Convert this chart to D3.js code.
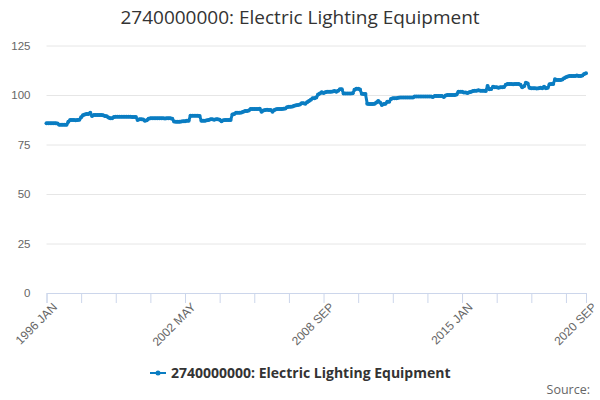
<!DOCTYPE html>
<html><head><meta charset="utf-8">
<script src="https://cdn.jsdelivr.net/npm/d3@7"></script>
<style>
body{margin:0;background:#fff;}
svg{font-family:"Open Sans","Noto Sans",sans-serif;}
</style></head>
<body><div id="chart"></div>
<script>
const title = "2740000000: Electric Lighting Equipment";
const seriesName = "2740000000: Electric Lighting Equipment";
const monthNames = ["JAN","FEB","MAR","APR","MAY","JUN","JUL","AUG","SEP","OCT","NOV","DEC"];
const startYear = 1996;
const values = [
85.7,85.7,85.7,85.7,85.7,85.7,85.6,85.0,85.0,85.0,85.0,85.0,
86.5,87.4,87.4,87.4,87.3,87.4,87.5,88.7,89.8,90.2,90.4,90.4,
91.0,89.4,89.9,89.9,89.9,89.9,89.9,89.8,89.4,89.3,88.6,88.2,
88.2,88.9,89.0,89.0,89.0,89.0,89.0,89.0,89.0,89.0,89.0,88.9,
88.9,88.9,87.4,87.7,87.7,87.6,87.0,87.2,88.0,88.2,88.2,88.2,
88.2,88.2,88.2,88.2,88.2,88.1,88.2,88.2,88.2,88.0,86.6,86.5,
86.5,86.5,86.6,86.8,86.8,87.0,87.0,89.5,89.5,89.5,89.5,89.5,
89.4,87.0,87.0,87.0,87.2,87.4,87.7,87.7,87.5,87.7,87.7,87.5,
86.8,87.2,87.4,87.4,87.4,87.4,90.2,90.4,91.0,91.0,91.0,91.2,
91.6,91.9,91.9,92.2,92.9,92.9,92.9,92.9,92.9,93.0,91.6,92.2,
92.4,92.6,92.4,92.4,91.6,92.4,92.8,92.9,92.9,92.9,93.0,93.2,
93.8,94.1,94.1,94.2,94.6,94.8,95.0,95.2,95.8,95.8,95.6,96.4,
97.0,97.6,98.3,98.4,98.8,100.2,100.8,101.4,101.0,101.4,101.7,101.6,
101.7,101.8,102.0,101.7,102.2,102.9,102.9,100.8,100.8,100.8,100.8,100.8,
100.9,102.6,103.2,103.2,102.8,100.6,100.5,100.5,95.6,95.4,95.4,95.5,
95.6,96.2,97.0,96.2,95.0,95.4,95.6,96.6,96.6,98.0,98.3,98.3,
98.3,98.6,98.7,98.7,98.7,98.7,98.7,98.7,98.7,98.7,99.2,99.2,
99.2,99.2,99.2,99.2,99.2,99.2,99.2,99.2,99.0,99.5,99.5,99.5,
99.5,99.5,99.0,99.8,100.0,100.0,100.0,100.0,100.0,100.2,101.7,101.7,
101.6,101.2,101.2,101.0,101.4,101.6,102.0,102.2,102.2,102.4,102.2,102.2,
102.2,102.0,104.6,102.9,103.0,104.2,103.9,103.9,103.6,103.9,103.9,104.0,
105.2,105.6,105.6,105.6,105.4,105.6,105.6,105.6,105.2,103.9,104.4,106.2,
105.8,103.6,103.4,103.4,103.4,103.3,103.4,103.6,103.4,104.2,103.4,103.6,
105.4,105.6,105.6,107.9,107.6,107.6,107.6,107.8,108.4,109.0,109.4,109.6,
109.6,109.6,109.6,109.8,109.6,109.6,109.8,110.6,111.0
];
const categories = values.map((v,i)=> (startYear + Math.floor(i/12)) + " " + monthNames[i%12]);
const yTicks = [0,25,50,75,100,125];
const tickInterval = 19;
const labelEvery = 4;

const W = 600, H = 400;
const m = {left:46.5, right:14, top:45.5, bottom:107};
const svg = d3.select("#chart").append("svg").attr("width",W).attr("height",H);

const x = d3.scaleLinear().domain([0, values.length-1]).range([m.left, W-m.right]);
const y = d3.scaleLinear().domain([0,125]).range([H-m.bottom, m.top]);

svg.append("text").attr("x",300).attr("y",24).attr("text-anchor","middle")
  .attr("font-size",19).attr("fill","#333").text(title);

// grid
const yAxis = d3.axisLeft(y).tickValues(yTicks).tickSize(-(W-m.right-m.left)).tickPadding(16);
const gy = svg.append("g").attr("transform",`translate(${m.left},0)`).call(yAxis);
gy.select(".domain").remove();
gy.selectAll(".tick line").attr("stroke","#e6e6e6");
gy.selectAll(".tick text").attr("fill","#666").attr("font-size",11.5);

// x axis
const tickIdx = [];
for(let i=0;i<values.length;i+=tickInterval) tickIdx.push(i);
if(tickIdx[tickIdx.length-1]!==values.length-1) tickIdx.push(values.length-1);
const xAxis = d3.axisBottom(x).tickValues(tickIdx).tickSize(10).tickPadding(4)
  .tickFormat((d,k)=> (k%labelEvery===0 || d===values.length-1) ? categories[d] : "");
const gx = svg.append("g").attr("transform",`translate(0,${H-m.bottom})`).call(xAxis);
gx.select(".domain").attr("stroke","#ccd6eb");
gx.selectAll(".tick line").attr("stroke","#ccd6eb");
gx.selectAll(".tick text").attr("fill","#666").attr("font-size",12)
  .attr("text-anchor","end").attr("dy","0.35em")
  .attr("transform","translate(-2,2) rotate(-45)");

const color = "#0a7dc2";
const line = d3.line().x((d,i)=>x(i)).y(d=>y(d));
svg.append("path").datum(values).attr("d",line).attr("fill","none")
  .attr("stroke",color).attr("stroke-width",3).attr("stroke-linejoin","round");
svg.append("g").selectAll("circle").data(values).join("circle")
  .attr("cx",(d,i)=>x(i)).attr("cy",d=>y(d)).attr("r",2).attr("fill",color);

// legend
const lg = svg.append("g").attr("transform","translate(150,373)");
lg.append("line").attr("x1",0).attr("x2",16).attr("y1",0).attr("y2",0).attr("stroke",color).attr("stroke-width",2);
lg.append("circle").attr("cx",8).attr("cy",0).attr("r",2.5).attr("fill",color);
lg.append("text").attr("x",21).attr("y",5).attr("font-size",14).attr("font-weight","bold").attr("fill","#333").text(seriesName);

svg.append("text").attr("x",590).attr("y",394).attr("text-anchor","end").attr("font-size",12.5).attr("fill","#666").text("Source:");
</script></body></html>
